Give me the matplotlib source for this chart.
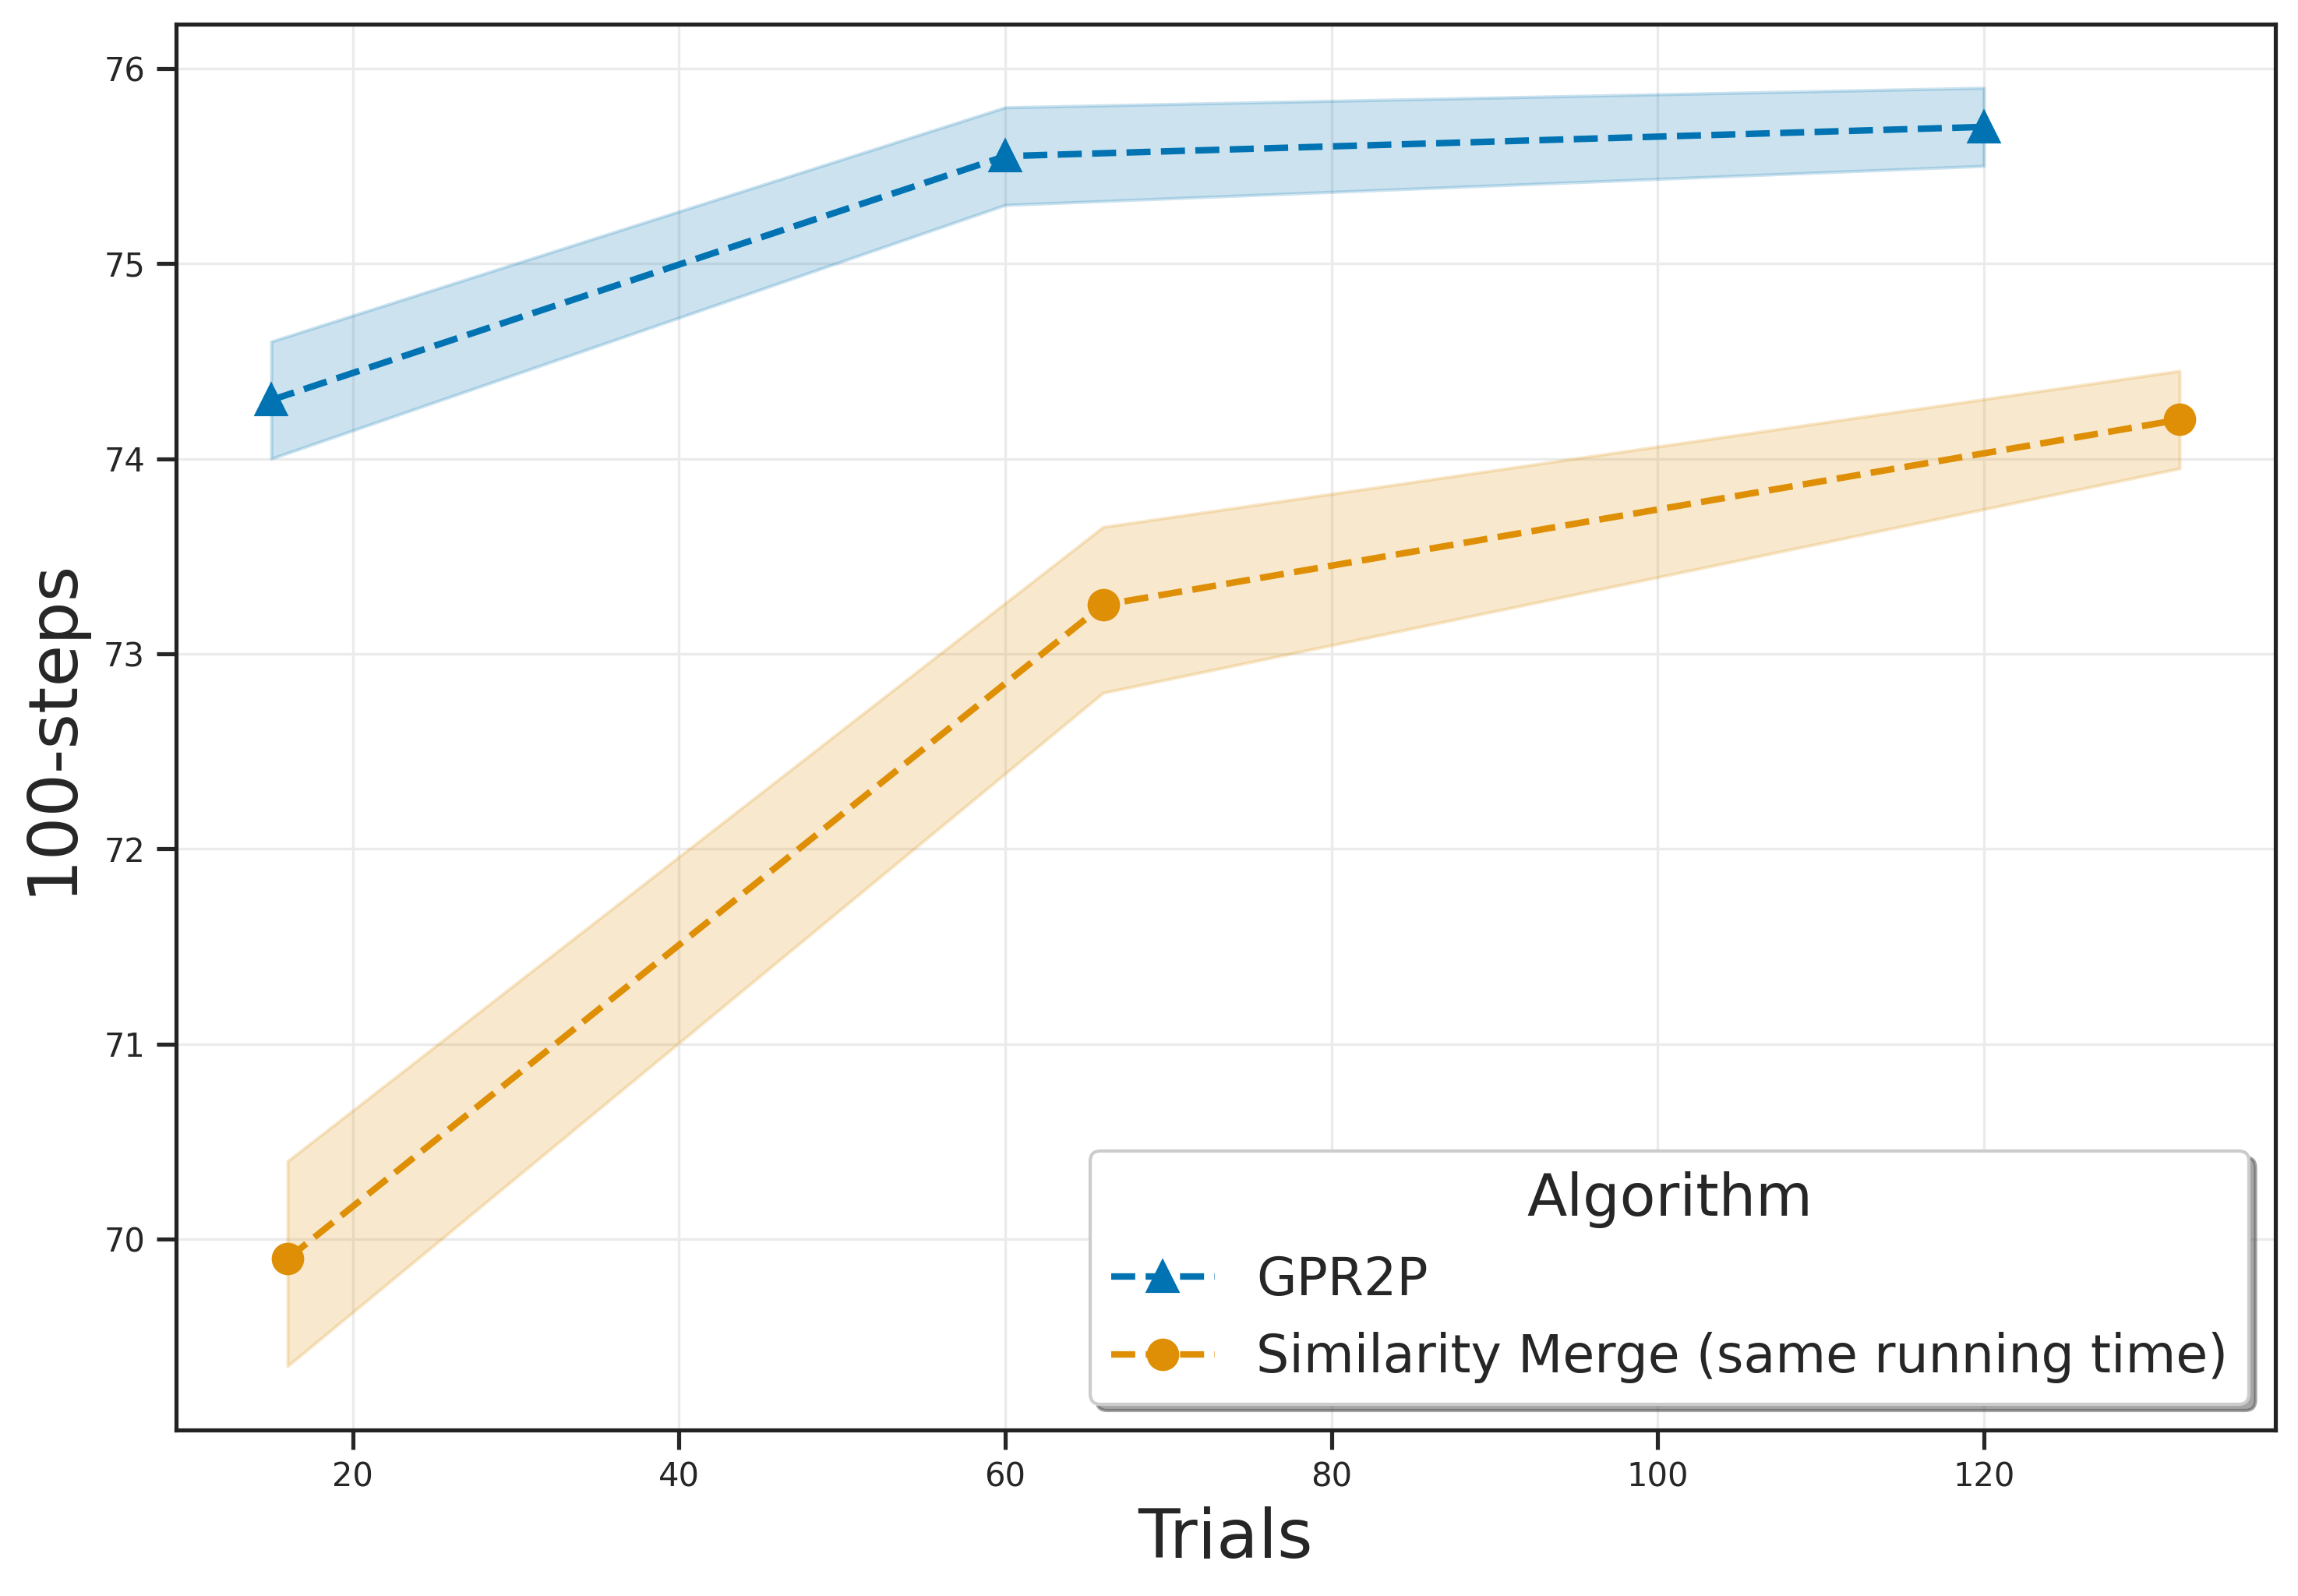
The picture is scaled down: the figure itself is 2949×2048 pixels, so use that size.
import numpy as np
import matplotlib
matplotlib.use("Agg")
import matplotlib.pyplot as plt
import seaborn as sns

# GPR2P
gpr_x = [15, 60, 120]
gpr_y = [74.3, 75.55, 75.7]
gpr_lo = [74.0, 75.3, 75.5]
gpr_hi = [74.6, 75.8, 75.9]

# Similarity Merge (same running time)
sim_x = [16, 66, 132]
sim_y = [69.9, 73.25, 74.2]
sim_lo = [69.35, 72.8, 73.95]
sim_hi = [70.4, 73.65, 74.45]

labels = ["GPR2P", "Similarity Merge (same running time)"]

sns.set_theme(style="ticks")
plt.rcParams['font.family'] = ['DejaVu Sans']
pal = sns.color_palette("colorblind")

fig, ax = plt.subplots(figsize=(2949 / 300, 2048 / 300), dpi=300)
fig.subplots_adjust(left=0.0765, right=0.990, top=0.985, bottom=0.104)

ax.fill_between(gpr_x, gpr_lo, gpr_hi, color=pal[0], alpha=0.2)
ax.plot(gpr_x, gpr_y, ls="--", marker="^", color=pal[0], lw=2, ms=9, label=labels[0])
ax.fill_between(sim_x, sim_lo, sim_hi, color=pal[1], alpha=0.2)
ax.plot(sim_x, sim_y, ls="--", marker="o", color=pal[1], lw=2, ms=9, label=labels[1])

ax.grid(True, color="#ebebeb", lw=0.8)
ax.set_xlabel("Trials", fontsize=21, labelpad=4)
ax.set_ylabel("100-steps", fontsize=21, labelpad=6)
ax.tick_params(labelsize=10)
for s in ax.spines.values():
    s.set_color("#222222")

leg = ax.legend(title="Algorithm", loc="lower right", fontsize=16, title_fontsize=18,
                frameon=True, shadow=True, fancybox=True)

fig.savefig("out.png", dpi=300)
